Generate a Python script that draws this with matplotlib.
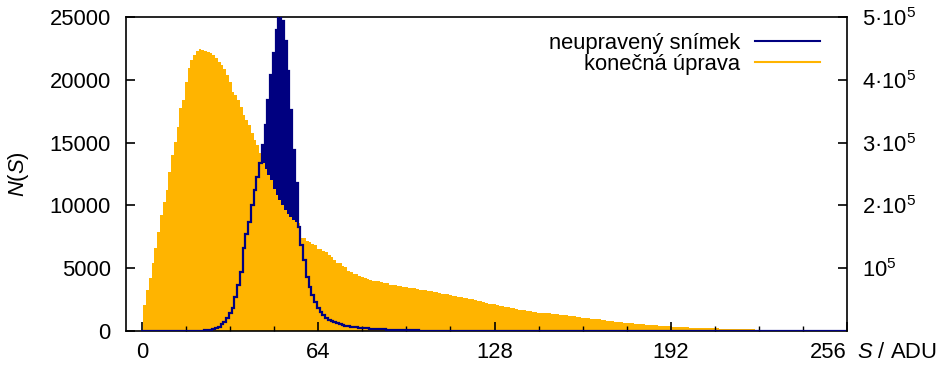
import numpy as np
import matplotlib
matplotlib.use("Agg")
import matplotlib.pyplot as plt
from matplotlib.lines import Line2D

plt.rcParams['font.family'] = ['Liberation Sans', 'DejaVu Sans']
plt.rcParams['mathtext.fontset'] = 'custom'
plt.rcParams['mathtext.rm'] = 'Liberation Sans'
plt.rcParams['mathtext.it'] = 'Liberation Sans:italic'

# histogram of the final image (left axis), one bin per ADU, 0..255
konecna = [
    0, 2070, 3260, 4200, 5400, 6600, 7900, 9240, 10300, 11230,
    12680, 14010, 15070, 16270, 17730, 18390, 19850, 20900, 21600, 21950,
    22300, 22420, 22370, 22320, 22240, 22160, 21970, 21710, 21440, 21180,
    20830, 20380, 19850, 19050, 18790, 18390, 17860, 17200, 16800, 16400,
    15740, 15210, 14810, 14150, 13400, 12900, 12400, 12000, 11300, 10800,
    10400, 10000, 9650, 9300, 9050, 8800, 8700, 8600, 7420, 7380,
    7150, 7080, 6920, 6870, 6560, 6500, 6330, 6280, 6070, 5900,
    5680, 5450, 5380, 5150, 5090, 4760, 4700, 4560, 4510, 4390,
    4300, 4200, 4120, 4030, 4010, 3980, 3950, 3880, 3860, 3820,
    3700, 3680, 3640, 3590, 3550, 3520, 3510, 3450, 3420, 3400,
    3380, 3300, 3270, 3250, 3210, 3160, 3130, 3120, 3040, 2980,
    2960, 2920, 2830, 2800, 2780, 2720, 2680, 2650, 2630, 2560,
    2530, 2480, 2400, 2370, 2280, 2240, 2180, 2160, 2110, 2060,
    2020, 1990, 1950, 1890, 1840, 1810, 1760, 1700, 1680, 1640,
    1590, 1560, 1540, 1500, 1470, 1450, 1440, 1420, 1400, 1360,
    1340, 1320, 1290, 1270, 1250, 1230, 1190, 1160, 1140, 1110,
    1060, 1030, 1010, 990, 960, 940, 920, 880, 850, 830,
    810, 770, 740, 700, 680, 670, 650, 630, 600, 580,
    570, 550, 530, 510, 490, 470, 450, 440, 420, 410,
    400, 380, 360, 350, 340, 320, 300, 290, 285, 275,
    265, 260, 255, 245, 240, 235, 230, 220, 210, 205,
    195, 185, 180, 175, 165, 160, 155, 150, 140, 135,
    130, 128, 120, 115, 110, 105, 100, 98, 95, 92,
    90, 85, 82, 80, 75, 70, 66, 62, 58, 54,
    50, 46, 42, 38, 35, 32, 29, 26, 23, 20,
    17, 14, 12, 10, 8, 6,
]

# histogram of the raw frame (right axis), bins 0..255
neupraveny = [0] * 18 + [
    100, 200, 300, 500, 700, 1000, 1500, 2000, 3000, 4000,
    6800, 11200, 14800, 20200, 28200, 36000, 54600, 73200, 94400, 132000,
    154000, 174000, 200000, 224000, 246000, 267000, 296200, 328000, 367800, 407600,
    443200, 479400, 506000, 494200, 462400, 414600, 352000, 288200, 236000, 166000,
    137000, 113000, 86400, 70600, 57400, 46000, 37000, 30000, 25000, 21200,
    18200, 15600, 13600, 12000, 10600, 9500, 8600, 7800, 7100, 6500,
    5900, 5400, 4960, 4560, 4200, 3860, 3560, 3280, 3000, 2760,
    2520, 2300, 2100, 1920, 1760, 1600, 1460, 1320, 1200, 1080,
    980, 880, 800, 720, 640, 560, 500, 440, 380, 320,
    260, 200, 160, 120, 80, 60, 40, 20,
]
neupraveny = neupraveny + [0] * (256 - len(neupraveny))

edges = np.arange(257) - 0.5
xticks_major = [0, 64, 128, 192, 256]
left_ticks = [0, 5000, 10000, 15000, 20000, 25000]
right_ticks = [1e5, 2e5, 3e5, 4e5, 5e5]
right_labels = ['10$^5$', '2·10$^5$', '3·10$^5$', '4·10$^5$', '5·10$^5$']

c_orange = '#ffb400'
c_navy = '#000080'
fs = 15.8

fig = plt.figure(figsize=(9.51, 3.66), dpi=100)
ax = fig.add_axes([126/951, 1 - 331/366, 721/951, 314/366])
ax_fill = ax.twinx()
ax_line = ax.twinx()
ax_fill.set_zorder(1)
ax.set_zorder(2)
ax_line.set_zorder(3)
ax.patch.set_visible(False)

ax_fill.stairs(neupraveny, edges, fill=True, color=c_navy, linewidth=0)
ax.stairs(konecna, edges, fill=True, color=c_orange, linewidth=0)
ax_line.stairs(neupraveny, edges, color=c_navy, linewidth=1.6)

ax.set_xlim(-5.85, 256)
ax.set_ylim(0, 25000)
for a in (ax_fill, ax_line):
    a.set_ylim(0, 5e5)
    for s in a.spines.values():
        s.set_visible(False)

ax_fill.set_yticks([])
for s in ax.spines.values():
    s.set_linewidth(1.2)

ax.set_xticks(xticks_major)
ax.set_xticks(np.arange(0, 257, 16), minor=True)
ax.set_yticks(left_ticks)
ax.tick_params(axis='both', which='major', direction='in', length=6.5, width=1.2,
               labelsize=fs, top=False, right=False)
ax.tick_params(axis='x', which='minor', direction='in', length=3.3, width=1.0, top=False)
ax.tick_params(axis='x', pad=8)
ax.tick_params(axis='y', pad=11)
ax.xaxis.get_majorticklabels()[-1].set_ha('right')

ax_line.set_yticks(right_ticks)
ax_line.set_yticklabels(right_labels)
ax_line.tick_params(axis='y', direction='in', length=6.5, width=1.2, labelsize=fs, pad=11)

ax.set_ylabel('$N$($S$)', fontsize=fs)
ax.yaxis.set_label_coords(-0.132, 0.5)
ax.set_xlabel('$S$ / ADU', fontsize=fs, ha='left', va='top')
ax.xaxis.set_label_coords(1.014, -0.035)

handles = [Line2D([], [], color=c_navy, linewidth=1.5),
           Line2D([], [], color=c_orange, linewidth=1.5)]
ax_line.legend(handles, ['neupravený snímek', 'konečná úprava'], loc='upper right',
               bbox_to_anchor=(0.9626, 0.949), frameon=False, markerfirst=False,
               fontsize=fs, handlelength=2.95, handletextpad=0.7,
               labelspacing=-0.01, borderaxespad=0, borderpad=0)

fig.savefig('out.png', dpi=100)
